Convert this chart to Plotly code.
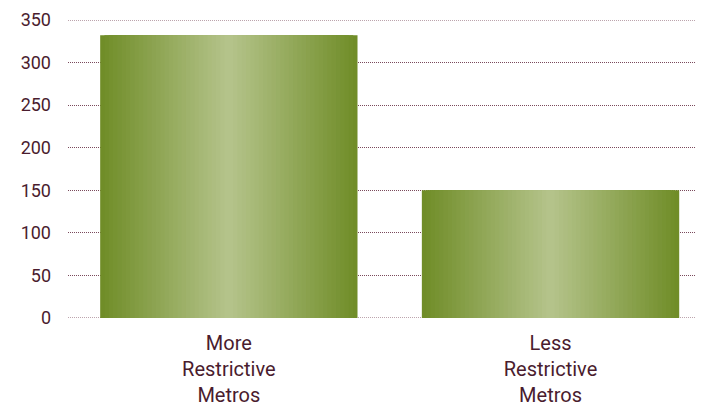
import plotly.graph_objects as go

categories = ["More<br>Restrictive<br>Metros", "Less<br>Restrictive<br>Metros"]
values = [332, 150]
y_ticks = [0, 50, 100, 150, 200, 250, 300, 350]

edge = (112, 141, 40)
center = (180, 195, 138)
N = 30
full_width = 0.8

fig = go.Figure()
for i in range(N):
    t = i / (N - 1)
    col = tuple(round(edge[k] + (center[k] - edge[k]) * t) for k in range(3))
    w = full_width * (1 - i / N)
    fig.add_trace(go.Bar(
        x=[0, 1], y=values, width=w,
        marker=dict(color="rgb(%d,%d,%d)" % col, line=dict(width=0)),
        hoverinfo="skip", showlegend=False,
    ))

font_family = "Roboto, sans-serif"
text_color = "#4a1c2e"
grid_color = "#7a4a5c"
grid_dash = "1px,1px"

fig.update_layout(
    width=703, height=407,
    barmode="overlay",
    plot_bgcolor="white", paper_bgcolor="white",
    margin=dict(l=60, r=8, t=12, b=97),
    font=dict(family=font_family, color=text_color, size=18),
    xaxis=dict(
        tickmode="array", tickvals=[0, 1], ticktext=categories,
        range=[-0.5, 1.474], showgrid=False, zeroline=False, showline=False,
        ticks="", automargin=False, ticklabelstandoff=11,
        tickfont=dict(size=20, color=text_color),
    ),
    yaxis=dict(
        tickmode="array", tickvals=y_ticks, ticktext=[str(v) for v in y_ticks],
        range=[0, 350], showgrid=True, gridcolor=grid_color, griddash=grid_dash,
        gridwidth=1, zeroline=False, showline=False, ticks="", automargin=False,
        ticklabelstandoff=16, tickfont=dict(size=18, color=text_color),
    ),
)
for yv in (y_ticks[0], y_ticks[-1]):
    fig.add_hline(y=yv, line=dict(color=grid_color, width=1, dash=grid_dash), layer="below")

fig.write_html("out.html")
